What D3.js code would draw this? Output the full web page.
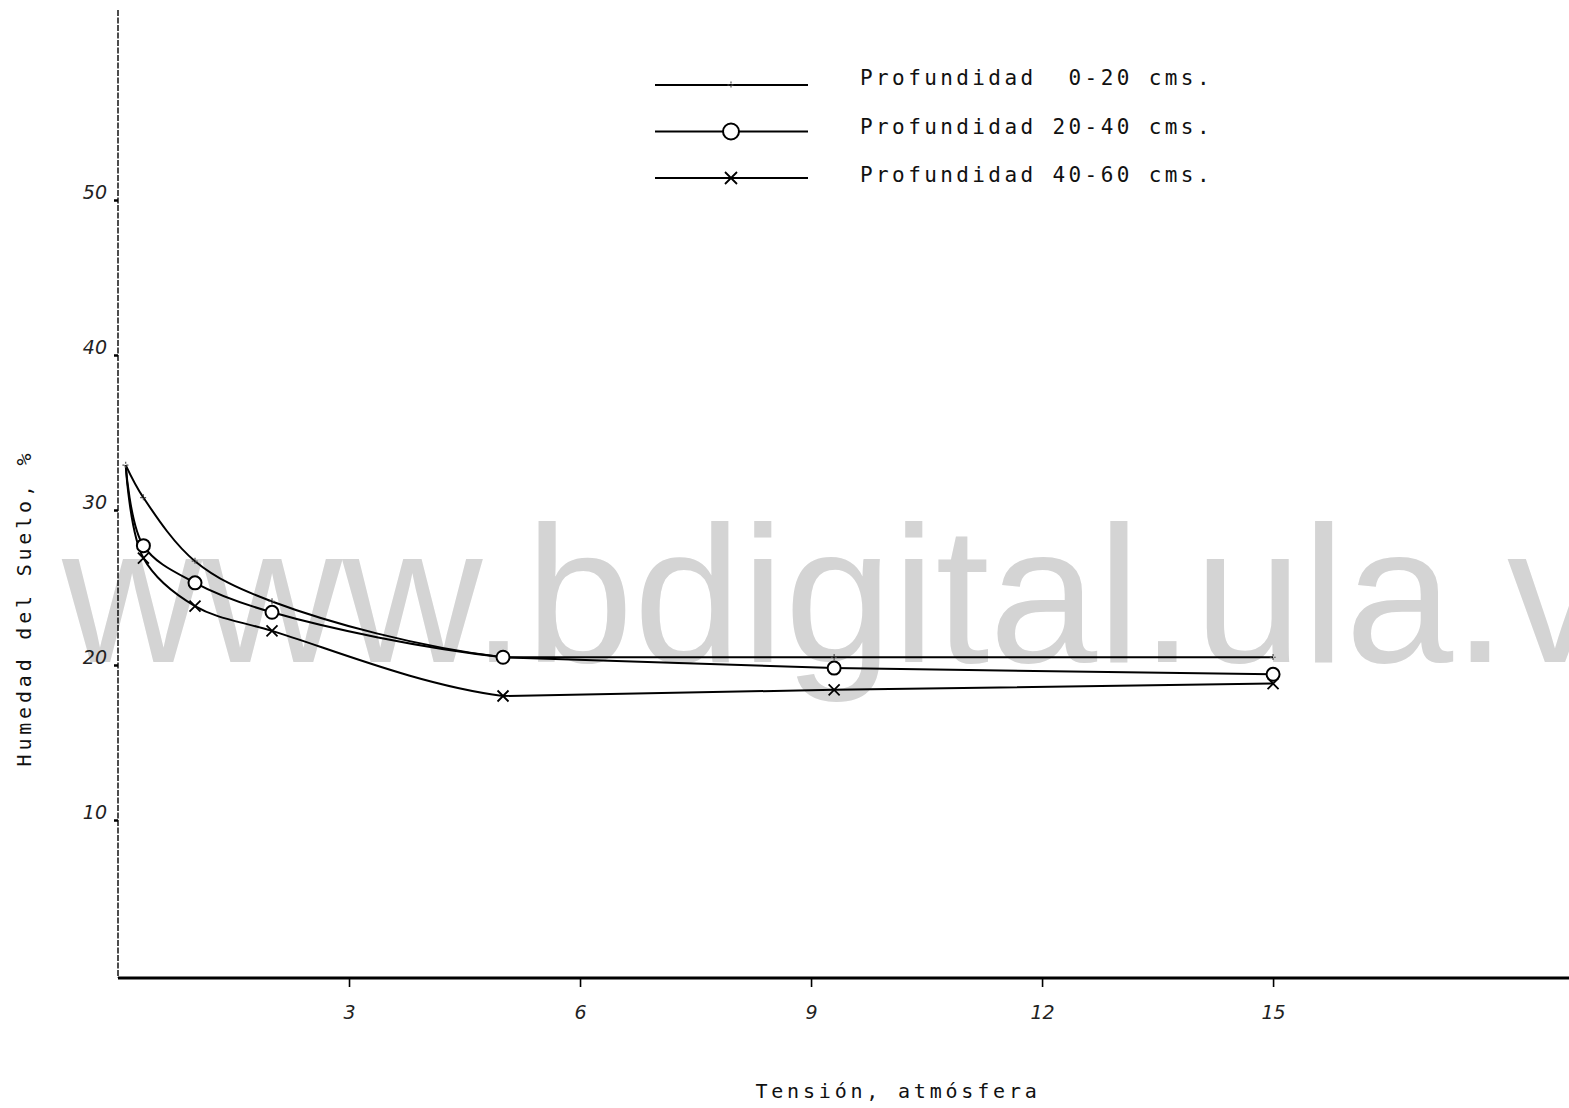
<!DOCTYPE html>
<html><head><meta charset="utf-8">
<script src="https://cdn.jsdelivr.net/npm/d3@7"></script>
<style>body{margin:0;background:#fff}svg{display:block}</style>
</head><body><svg id="c" width="1569" height="1108"></svg>
<script>
// ---- data ----
const tension = [0.1, 0.33, 1, 2, 5, 9.3, 15];
const humedad0_20  = [32.9, 30.8, 26.7, 24.1, 20.5, 20.5, 20.5];
const humedad20_40 = [32.9, 27.7, 25.3, 23.4, 20.5, 19.8, 19.4];
const humedad40_60 = [32.9, 26.9, 23.8, 22.2, 18.0, 18.4, 18.8];
const seriesNames = ["Profundidad  0-20 cms.", "Profundidad 20-40 cms.", "Profundidad 40-60 cms."];
const markerTypes = ["plus", "circle", "cross"];
const xTicks = [3, 6, 9, 12, 15];
const yTicks = [10, 20, 30, 40, 50];
const xTitle = "Tensión, atmósfera";
const yTitle = "Humedad del Suelo, %";
const watermark = "www.bdigital.ula.ve";
const curveEnd = 5; // curves drawn smooth up to 5 atm, straight beyond

const series = [humedad0_20, humedad20_40, humedad40_60].map((v, i) => ({
  name: seriesNames[i], marker: markerTypes[i],
  pts: tension.map((t, j) => ({x: t, y: v[j], first: j === 0}))
}));

const svg = d3.select("#c");
const x = d3.scaleLinear().domain([0, 18.83]).range([118, 1568]);
const y = d3.scaleLinear().domain([0, 62]).range([975, 14]);
const mono = "'DejaVu Sans Mono', monospace";

const defs = svg.append("defs");
defs.append("clipPath").attr("id", "pg").append("rect").attr("width", 1569).attr("height", 1108);
defs.append("clipPath").attr("id", "left").append("rect")
  .attr("x", 0).attr("y", 0).attr("width", x(curveEnd)).attr("height", 1108);

// watermark (clipped at the page edge like the original scan)
svg.append("g").attr("clip-path", "url(#pg)").append("text").attr("x", 62).attr("y", 662)
  .attr("font-family", "'Liberation Sans', Arial, sans-serif")
  .attr("font-size", 194).attr("fill", "#d4d4d4").text(watermark);

// axes
const xAxis = d3.axisBottom(x).tickValues(xTicks).tickSize(9).tickPadding(19).tickFormat(d3.format("d"));
const gx = svg.append("g").attr("transform", `translate(0,${y(0) + 3})`).call(xAxis);
gx.select(".domain").attr("stroke-width", 3).attr("d", `M${x(0)},0H1569`);
gx.selectAll(".tick line").attr("stroke-width", 1.6);
gx.selectAll(".tick text").attr("font-family", "'DejaVu Sans', sans-serif").attr("font-style", "italic")
  .attr("font-size", 19).attr("fill", "#222");

const yAxis = d3.axisLeft(y).tickValues(yTicks).tickSize(4).tickPadding(7).tickFormat(d3.format("d"));
const gy = svg.append("g").attr("transform", `translate(${x(0)},0)`).call(yAxis);
gy.select(".domain").attr("stroke-width", 1.4).attr("stroke-dasharray", "6,1.5").attr("d", `M0,10V${y(0) + 3}`);
gy.selectAll(".tick line").attr("stroke-width", 2.5);
gy.selectAll(".tick text").attr("font-family", "'DejaVu Sans', sans-serif").attr("font-style", "italic")
  .attr("font-size", 19).attr("fill", "#222").attr("dy", "-0.1em");

// titles
svg.append("text").attr("x", 898).attr("y", 1098).attr("text-anchor", "middle")
  .attr("font-family", mono).attr("font-size", 20).attr("letter-spacing", 3.8).attr("fill", "#111").text(xTitle);
svg.append("text").attr("transform", "translate(31,608) rotate(-90)").attr("text-anchor", "middle")
  .attr("font-family", mono).attr("font-size", 20).attr("letter-spacing", 3.8).attr("fill", "#111").text(yTitle);

// lines: smooth curve (through all points) shown up to 5 atm, straight segments beyond
const smooth = d3.line().x(d => x(d.x)).y(d => y(d.y)).curve(d3.curveCatmullRom.alpha(0.5));
const straight = d3.line().x(d => x(d.x)).y(d => y(d.y));
series.forEach(s => {
  svg.append("path").datum(s.pts).attr("d", smooth).attr("fill", "none")
    .attr("clip-path", "url(#left)").attr("stroke", "#000").attr("stroke-width", 2);
  svg.append("path").datum(s.pts.filter(p => p.x >= curveEnd)).attr("d", straight).attr("fill", "none")
    .attr("stroke", "#000").attr("stroke-width", 2);
});

function drawMarker(g, type, cx, cy, r) {
  if (type === "circle") {
    g.append("circle").attr("cx", cx).attr("cy", cy).attr("r", r).attr("fill", "#fff")
      .attr("stroke", "#000").attr("stroke-width", 2);
  } else if (type === "cross") {
    g.append("path").attr("d", `M${cx - r},${cy - r}L${cx + r},${cy + r}M${cx + r},${cy - r}L${cx - r},${cy + r}`)
      .attr("stroke", "#000").attr("stroke-width", 1.8);
  } else {
    g.append("path").attr("d", `M${cx - r * 0.6},${cy}L${cx + r * 0.6},${cy}M${cx},${cy - r * 0.6}L${cx},${cy + r * 0.6}`)
      .attr("stroke", "#555").attr("stroke-width", 1.2).attr("stroke-dasharray", "2,2");
  }
}
const mg = svg.append("g");
series.forEach(s => {
  s.pts.forEach(p => {
    if (p.first && s.marker !== "plus") return;
    drawMarker(mg, s.marker, x(p.x), y(p.y), s.marker === "circle" ? 6.5 : 5.5);
  });
});

// legend
const lg = svg.append("g");
series.forEach((s, i) => {
  const ly = 85 + i * 46.5;
  lg.append("line").attr("x1", 655).attr("x2", 808).attr("y1", ly).attr("y2", ly)
    .attr("stroke", "#000").attr("stroke-width", 2);
  drawMarker(lg, s.marker, 731, ly, s.marker === "circle" ? 8 : 6);
  lg.append("text").attr("x", 860).attr("y", 79 + i * 48.5).attr("dominant-baseline", "middle")
    .attr("font-family", mono).attr("font-size", 21).attr("letter-spacing", 3.4)
    .attr("fill", "#111").attr("xml:space", "preserve").style("white-space", "pre").text(s.name);
});
</script></body></html>
